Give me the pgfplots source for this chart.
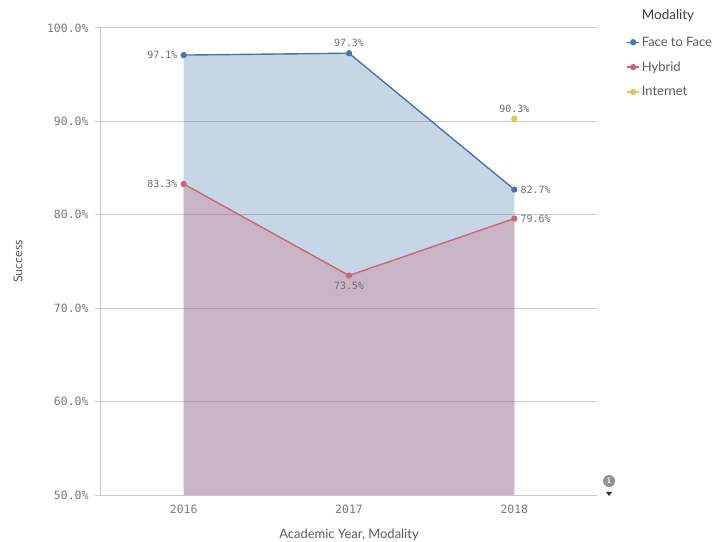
\documentclass[border=0pt]{standalone}
\usepackage{fontspec}
\setmainfont{Lato}
\newfontfamily\monofont{DejaVu Sans Mono}
\usepackage{pgfplots}
\pgfplotsset{compat=1.18}

\definecolor{ftf}{HTML}{4477AA}
\definecolor{hyb}{HTML}{CC6677}
\definecolor{inet}{HTML}{D8C85A}
\definecolor{gridgray}{HTML}{CACACA}
\definecolor{tickgray}{HTML}{7A7A7A}
\definecolor{labelgray}{HTML}{6E6E6E}
\definecolor{textgray}{HTML}{595959}
\definecolor{titlegray}{HTML}{404040}

% success rates by academic year (0 = 2016, 1 = 2017, 2 = 2018)
\pgfplotstableread{
x y
0 97.1
1 97.3
2 82.7
}\facetoface
\pgfplotstableread{
x y
0 83.3
1 73.5
2 79.6
}\hybrid
\pgfplotstableread{
x y
2 90.3
}\internet

\pgfplotsset{
  series/.style={line width=1.4bp, mark=*, mark size=2.4bp},
  % value label of the point at x = #1, placed on side #2
  values/.style 2 args={draw=none, forget plot, restrict x to domain=#1:#1,
    nodes near coords={\pgfmathprintnumber[fixed,fixed zerofill,precision=1]{\pgfplotspointmeta}\%},
    every node near coord/.append style={font=\monofont\fontsize{10}{12}\selectfont, text=labelgray, inner sep=6bp, anchor=#2}},
}

\begin{document}
\begin{tikzpicture}
\begin{axis}[
  name=ax,
  scale only axis, width=496bp, height=467bp,
  xmin=-0.5, xmax=2.5, ymin=50, ymax=100,
  xtick={0,1,2}, xticklabels={2016,2017,2018},
  ytick={50,60,...,100},
  yticklabel={\pgfmathprintnumber[fixed,fixed zerofill,precision=1]{\tick}\%},
  /pgf/number format/assume math mode=true,
  ticklabel style={font=\monofont\fontsize{11.5}{13}\selectfont, text=tickgray},
  yticklabel style={xshift=-3bp},
  axis x line*=bottom, axis y line*=left,
  axis line style={-, draw=gridgray, line width=1bp},
  ymajorgrids, grid style={gridgray, line width=1bp},
  tick align=outside, major tick length=6bp,
  tick style={gridgray, line width=1bp},
  every x tick/.style={draw=none},
  ylabel={Success}, xlabel={Academic Year, Modality},
  every axis y label/.style={at={(rel axis cs:0,0.5)}, rotate=90, anchor=center, yshift=83bp, font=\fontsize{12.5}{14}\selectfont, text=textgray},
  every axis x label/.style={at={(rel axis cs:0.5,0)}, anchor=center, yshift=-40bp, font=\fontsize{13}{15}\selectfont, text=textgray},
  legend style={at={(axis description cs:1.053,0.99)}, anchor=north west, draw=none, fill=none,
    font=\fontsize{13}{15}\selectfont, text=textgray, row sep=10bp,
    /tikz/every even column/.append style={column sep=5bp}},
  legend cell align=left,
  legend image code/.code={\draw[mark repeat=2, mark phase=2, #1] plot coordinates {(0bp,0bp) (6bp,0bp) (12bp,0bp)};},
]
% translucent areas under each series
\addplot[fill=ftf, fill opacity=0.3, draw=none, forget plot] table[x=x, y=y] {\facetoface} \closedcycle;
\addplot[fill=hyb, fill opacity=0.3, draw=none, forget plot] table[x=x, y=y] {\hybrid} \closedcycle;

\addplot[ftf, series] table[x=x, y=y] {\facetoface};
\addlegendentry{Face to Face}
\addplot[hyb, series] table[x=x, y=y] {\hybrid};
\addlegendentry{Hybrid}
\addplot[inet, series] table[x=x, y=y] {\internet};
\addlegendentry{Internet}

% value labels
\addplot[values={0}{east}]  table[x=x, y=y] {\facetoface};
\addplot[values={1}{south}] table[x=x, y=y] {\facetoface};
\addplot[values={2}{west}]  table[x=x, y=y] {\facetoface};
\addplot[values={0}{east}]  table[x=x, y=y] {\hybrid};
\addplot[values={1}{north}] table[x=x, y=y] {\hybrid};
\addplot[values={2}{west}]  table[x=x, y=y] {\hybrid};
\addplot[values={2}{south}] table[x=x, y=y] {\internet};
\end{axis}

% legend title
\node[font=\fontsize{13.5}{15}\selectfont, text=titlegray] at ([shift={(567bp,479bp)}]ax.south west) {Modality};
% scroll indicator
\fill[gray!85] ([shift={(508bp,14bp)}]ax.south west) circle (6bp);
\node[font=\sffamily\bfseries\fontsize{8}{8}\selectfont, text=white] at ([shift={(508bp,14bp)}]ax.south west) {1};
\fill[black!80] ([shift={(505bp,3bp)}]ax.south west) -- ++(6bp,0) -- ++(-3bp,-4bp) -- cycle;

\pgfresetboundingbox
\path[use as bounding box] ([shift={(-101bp,-47bp)}]ax.south west) rectangle ([shift={(625bp,495bp)}]ax.south west);
\end{tikzpicture}
\end{document}
